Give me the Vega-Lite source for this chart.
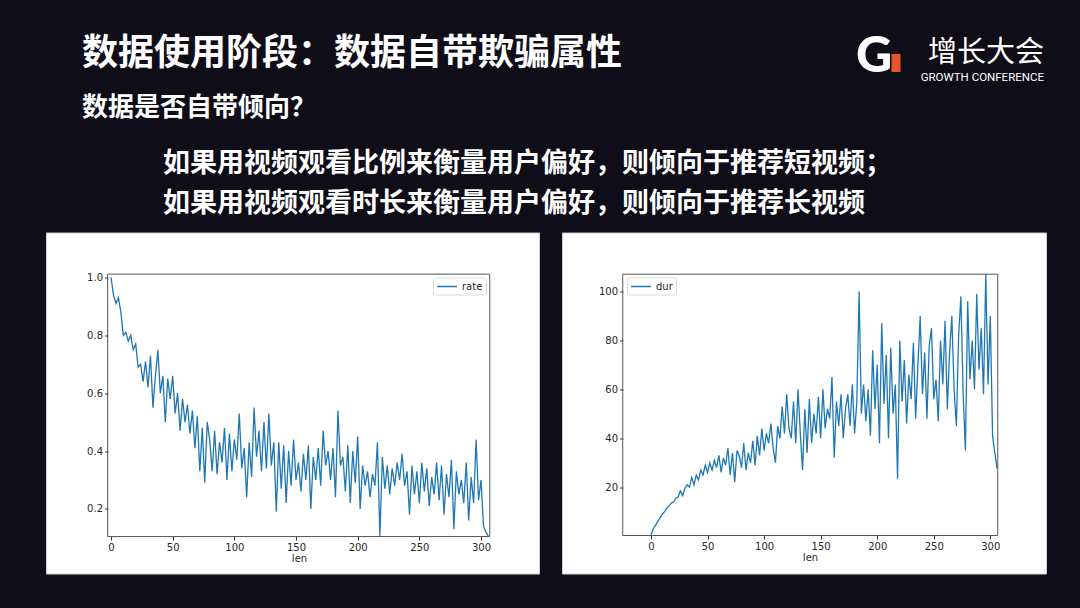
{
  "$schema": "https://vega.github.io/schema/vega-lite/v6.json",
  "background": "#0f0d18",
  "padding": {"left": 45, "top": 31.5, "right": 35, "bottom": 35},
  "bounds": "flush",
  "spacing": 23,
  "title": {
    "text": "数据使用阶段：数据自带欺骗属性",
    "subtitle": "数据是否自带倾向？",
    "anchor": "start", "frame": "group", "dx": 36, "offset": -90,
    "font": "Noto Sans CJK SC", "fontSize": 36, "fontWeight": "bold", "color": "white",
    "subtitleFont": "Noto Sans CJK SC", "subtitleFontSize": 26, "subtitleFontWeight": "bold",
    "subtitleColor": "white", "subtitlePadding": 22
  },
  "config": {
    "axis": {
      "domain": false, "grid": false, "tickSize": 3.5, "tickColor": "#333333", "tickWidth": 1,
      "labelFont": "DejaVu Sans", "labelFontSize": 10, "labelColor": "#262626", "labelPadding": 2,
      "titleFont": "DejaVu Sans", "titleFontSize": 10, "titleFontWeight": "normal", "titleColor": "#262626",
      "labelFlush": false, "labelOverlap": false, "zindex": 1
    },
    "legend": {
      "title": null, "orient": "none", "symbolType": "M-1,0H3", "symbolSize": 100, "symbolStrokeWidth": 1.5,
      "symbolFillColor": "transparent",
      "labelFont": "DejaVu Sans", "labelFontSize": 10, "labelColor": "#262626", "labelOffset": 14,
      "padding": 3, "strokeColor": "#dddddd", "fillColor": "white", "cornerRadius": 2
    }
  },
  "resolve": {"scale": {"color": "independent", "x": "independent", "y": "independent"}, "legend": {"color": "independent"}},
  "hconcat": [
    {
      "width": 493, "height": 341,
      "view": {"fill": "white", "stroke": "#cfcfd6"},
      "title": {
        "text": ["如果用视频观看比例来衡量用户偏好，则倾向于推荐短视频；", "如果用视频观看时长来衡量用户偏好，则倾向于推荐长视频"],
        "anchor": "start", "frame": "group", "dx": 117, "offset": 15,
        "font": "Noto Sans CJK SC", "fontSize": 27, "fontWeight": "bold", "color": "white", "lineHeight": 40
      },
      "layer": [
        {
          "data": {"values": [
            {"len":0,"rate":1.0},{"len":2,"rate":0.94},{"len":4,"rate":0.91},{"len":6,"rate":0.93},{"len":8,"rate":0.88},
            {"len":10,"rate":0.80},{"len":12,"rate":0.81},{"len":14,"rate":0.78},{"len":16,"rate":0.80},{"len":18,"rate":0.75},
            {"len":20,"rate":0.77},{"len":22,"rate":0.69},{"len":24,"rate":0.70},{"len":26,"rate":0.64},{"len":28,"rate":0.71},
            {"len":30,"rate":0.62},{"len":32,"rate":0.73},{"len":34,"rate":0.55},{"len":36,"rate":0.66},{"len":38,"rate":0.75},
            {"len":40,"rate":0.60},{"len":42,"rate":0.66},{"len":44,"rate":0.50},{"len":46,"rate":0.65},{"len":48,"rate":0.58},
            {"len":50,"rate":0.66},{"len":52,"rate":0.53},{"len":54,"rate":0.60},{"len":56,"rate":0.47},{"len":58,"rate":0.58},
            {"len":60,"rate":0.50},{"len":62,"rate":0.56},{"len":64,"rate":0.46},{"len":66,"rate":0.54},{"len":68,"rate":0.41},
            {"len":70,"rate":0.52},{"len":72,"rate":0.33},{"len":74,"rate":0.48},{"len":76,"rate":0.29},{"len":78,"rate":0.50},
            {"len":80,"rate":0.44},{"len":82,"rate":0.33},{"len":84,"rate":0.47},{"len":86,"rate":0.32},{"len":88,"rate":0.43},
            {"len":90,"rate":0.36},{"len":92,"rate":0.48},{"len":94,"rate":0.30},{"len":96,"rate":0.46},{"len":98,"rate":0.33},
            {"len":100,"rate":0.44},{"len":102,"rate":0.37},{"len":104,"rate":0.53},{"len":106,"rate":0.34},{"len":108,"rate":0.41},
            {"len":110,"rate":0.24},{"len":112,"rate":0.43},{"len":114,"rate":0.31},{"len":116,"rate":0.55},{"len":118,"rate":0.38},
            {"len":120,"rate":0.47},{"len":122,"rate":0.33},{"len":124,"rate":0.50},{"len":126,"rate":0.34},{"len":128,"rate":0.53},
            {"len":130,"rate":0.35},{"len":132,"rate":0.43},{"len":134,"rate":0.19},{"len":136,"rate":0.43},{"len":138,"rate":0.27},
            {"len":140,"rate":0.42},{"len":142,"rate":0.22},{"len":144,"rate":0.40},{"len":146,"rate":0.28},{"len":148,"rate":0.44},
            {"len":150,"rate":0.30},{"len":152,"rate":0.36},{"len":154,"rate":0.26},{"len":156,"rate":0.39},{"len":158,"rate":0.30},
            {"len":160,"rate":0.42},{"len":162,"rate":0.20},{"len":164,"rate":0.38},{"len":166,"rate":0.30},{"len":168,"rate":0.41},
            {"len":170,"rate":0.28},{"len":172,"rate":0.47},{"len":174,"rate":0.35},{"len":176,"rate":0.40},{"len":178,"rate":0.30},
            {"len":180,"rate":0.41},{"len":182,"rate":0.24},{"len":184,"rate":0.54},{"len":186,"rate":0.35},{"len":188,"rate":0.38},
            {"len":190,"rate":0.26},{"len":192,"rate":0.42},{"len":194,"rate":0.22},{"len":196,"rate":0.40},{"len":198,"rate":0.29},
            {"len":200,"rate":0.45},{"len":202,"rate":0.20},{"len":204,"rate":0.35},{"len":206,"rate":0.28},{"len":208,"rate":0.33},
            {"len":210,"rate":0.24},{"len":212,"rate":0.32},{"len":214,"rate":0.28},{"len":216,"rate":0.43},{"len":218,"rate":0.105},
            {"len":220,"rate":0.38},{"len":222,"rate":0.27},{"len":224,"rate":0.35},{"len":226,"rate":0.25},{"len":228,"rate":0.34},
            {"len":230,"rate":0.28},{"len":232,"rate":0.36},{"len":234,"rate":0.30},{"len":236,"rate":0.39},{"len":238,"rate":0.28},
            {"len":240,"rate":0.33},{"len":242,"rate":0.18},{"len":244,"rate":0.35},{"len":246,"rate":0.25},{"len":248,"rate":0.33},
            {"len":250,"rate":0.22},{"len":252,"rate":0.36},{"len":254,"rate":0.26},{"len":256,"rate":0.34},{"len":258,"rate":0.21},
            {"len":260,"rate":0.31},{"len":262,"rate":0.25},{"len":264,"rate":0.36},{"len":266,"rate":0.23},{"len":268,"rate":0.35},
            {"len":270,"rate":0.18},{"len":272,"rate":0.32},{"len":274,"rate":0.24},{"len":276,"rate":0.37},{"len":278,"rate":0.13},
            {"len":280,"rate":0.33},{"len":282,"rate":0.25},{"len":284,"rate":0.30},{"len":286,"rate":0.22},{"len":288,"rate":0.36},
            {"len":290,"rate":0.16},{"len":292,"rate":0.31},{"len":294,"rate":0.22},{"len":296,"rate":0.44},{"len":298,"rate":0.23},
            {"len":300,"rate":0.30},{"len":302,"rate":0.14},{"len":304,"rate":0.12},{"len":306,"rate":0.105}
          ]},
          "mark": {"type": "line", "strokeWidth": 1.3},
          "encoding": {
            "x": {"field": "len", "type": "quantitative",
                  "scale": {"domain": [-52.7, 347.0], "nice": false, "zero": false},
                  "axis": {"title": "len", "values": [0, 50, 100, 150, 200, 250, 300], "offset": -37, "titleX": 253, "titleY": 17, "titleBaseline": "top"}},
            "y": {"field": "rate", "type": "quantitative",
                  "scale": {"domain": [-0.0234, 1.1554], "nice": false, "zero": false},
                  "axis": {"title": null, "values": [0.2, 0.4, 0.6, 0.8, 1.0], "format": ".1f", "offset": -62}},
            "color": {"datum": "rate", "scale": {"range": ["#1f77b4"]},
                      "legend": {"legendX": 387, "legendY": 45}}
          }
        },
        {
          "data": {"values": [{}]},
          "mark": {"type": "rect", "filled": false, "stroke": "#555555", "strokeWidth": 1},
          "encoding": {
            "x": {"datum": -2.7, "type": "quantitative"},
            "x2": {"datum": 307.1},
            "y": {"datum": 0.1043, "type": "quantitative"},
            "y2": {"datum": 1.0114}
          }
        }
      ]
    },
    {
      "width": 484, "height": 341,
      "view": {"fill": "white", "stroke": "#cfcfd6"},
      "title": {"text": "增长大会", "subtitle": "GROWTH CONFERENCE", "anchor": "end", "frame": "group", "dx": -2, "offset": 149.5,
                "font": "Noto Sans CJK SC", "fontSize": 29, "fontWeight": "normal", "color": "white",
                "subtitleFont": "Roboto", "subtitleFontSize": 11.5, "subtitleColor": "white", "subtitlePadding": 4},
      "layer": [
        {
          "data": {"values": [
            {"len":0,"dur":0.5},{"len":2,"dur":3},{"len":4,"dur":4.5},{"len":6,"dur":6},{"len":8,"dur":7.5},
            {"len":10,"dur":9},{"len":12,"dur":10},{"len":14,"dur":11.5},{"len":16,"dur":12.5},{"len":18,"dur":13.5},
            {"len":20,"dur":14},{"len":22,"dur":15.5},{"len":24,"dur":16},{"len":26,"dur":18.5},{"len":28,"dur":16.5},
            {"len":30,"dur":19.5},{"len":32,"dur":21},{"len":34,"dur":20},{"len":36,"dur":24},{"len":38,"dur":21},
            {"len":40,"dur":25},{"len":42,"dur":23},{"len":44,"dur":27},{"len":46,"dur":25},{"len":48,"dur":29},
            {"len":50,"dur":26},{"len":52,"dur":30},{"len":54,"dur":27},{"len":56,"dur":31},{"len":58,"dur":28},
            {"len":60,"dur":33},{"len":62,"dur":26},{"len":64,"dur":32},{"len":66,"dur":29},{"len":68,"dur":36},
            {"len":70,"dur":25},{"len":72,"dur":34},{"len":74,"dur":22},{"len":76,"dur":35},{"len":78,"dur":33},
            {"len":80,"dur":28},{"len":82,"dur":38},{"len":84,"dur":27},{"len":86,"dur":34},{"len":88,"dur":30},
            {"len":90,"dur":39},{"len":92,"dur":29},{"len":94,"dur":41},{"len":96,"dur":33},{"len":98,"dur":44},
            {"len":100,"dur":35},{"len":102,"dur":42},{"len":104,"dur":38},{"len":106,"dur":46},{"len":108,"dur":36},
            {"len":110,"dur":30},{"len":112,"dur":45},{"len":114,"dur":40},{"len":116,"dur":53},{"len":118,"dur":42},
            {"len":120,"dur":58},{"len":122,"dur":44},{"len":124,"dur":40},{"len":126,"dur":55},{"len":128,"dur":38},
            {"len":130,"dur":60},{"len":132,"dur":42},{"len":134,"dur":27},{"len":136,"dur":52},{"len":138,"dur":34},
            {"len":140,"dur":56},{"len":142,"dur":38},{"len":144,"dur":50},{"len":146,"dur":42},{"len":148,"dur":57},
            {"len":150,"dur":40},{"len":152,"dur":60},{"len":154,"dur":44},{"len":156,"dur":52},{"len":158,"dur":48},
            {"len":160,"dur":65},{"len":162,"dur":32},{"len":164,"dur":55},{"len":166,"dur":45},{"len":168,"dur":58},
            {"len":170,"dur":40},{"len":172,"dur":52},{"len":174,"dur":58},{"len":176,"dur":45},{"len":178,"dur":62},
            {"len":180,"dur":42},{"len":182,"dur":55},{"len":184,"dur":100},{"len":186,"dur":50},{"len":188,"dur":62},
            {"len":190,"dur":47},{"len":192,"dur":60},{"len":194,"dur":41},{"len":196,"dur":76},{"len":198,"dur":52},
            {"len":200,"dur":70},{"len":202,"dur":38},{"len":204,"dur":87},{"len":206,"dur":54},{"len":208,"dur":74},
            {"len":210,"dur":40},{"len":212,"dur":77},{"len":214,"dur":50},{"len":216,"dur":62},{"len":218,"dur":23.5},
            {"len":220,"dur":80},{"len":222,"dur":55},{"len":224,"dur":72},{"len":226,"dur":46},{"len":228,"dur":66},
            {"len":230,"dur":56},{"len":232,"dur":79},{"len":234,"dur":48},{"len":236,"dur":70},{"len":238,"dur":90},
            {"len":240,"dur":58},{"len":242,"dur":75},{"len":244,"dur":48},{"len":246,"dur":78},{"len":248,"dur":85},
            {"len":250,"dur":56},{"len":252,"dur":64},{"len":254,"dur":47},{"len":256,"dur":80},{"len":258,"dur":62},
            {"len":260,"dur":88},{"len":262,"dur":52},{"len":264,"dur":75},{"len":266,"dur":90},{"len":268,"dur":60},
            {"len":270,"dur":45},{"len":272,"dur":82},{"len":274,"dur":98},{"len":276,"dur":58},{"len":278,"dur":35},
            {"len":280,"dur":96},{"len":282,"dur":64},{"len":284,"dur":80},{"len":286,"dur":60},{"len":288,"dur":99},
            {"len":290,"dur":68},{"len":292,"dur":85},{"len":294,"dur":58},{"len":296,"dur":107},{"len":298,"dur":62},
            {"len":300,"dur":90},{"len":302,"dur":41},{"len":304,"dur":34},{"len":306,"dur":27.6}
          ]},
          "mark": {"type": "line", "strokeWidth": 1.3},
          "encoding": {
            "x": {"field": "len", "type": "quantitative",
                  "scale": {"domain": [-78.7, 349.25], "nice": false, "zero": false},
                  "axis": {"title": "len", "values": [0, 50, 100, 150, 200, 250, 300], "offset": -38, "titleX": 248, "titleY": 17, "titleBaseline": "top"}},
            "y": {"field": "dur", "type": "quantitative",
                  "scale": {"domain": [-15.28, 124.12], "nice": false, "zero": false},
                  "axis": {"title": null, "values": [20, 40, 60, 80, 100], "offset": -61}},
            "color": {"datum": "dur", "scale": {"range": ["#1f77b4"]},
                      "legend": {"legendX": 65, "legendY": 45}},
            "strokeDash": {"datum": "G", "scale": {"range": [[1, 0]]},
                           "legend": {"orient": "none", "legendX": 825, "legendY": -200.5,
                                      "symbolType": "M-0.5,-0.333H0.5V1.667H-0.5Z", "symbolSize": 324,
                                      "symbolFillColor": "#e8552d", "symbolStrokeColor": "#e8552d", "symbolStrokeWidth": 0,
                                      "labelOffset": -65, "labelFont": "Lato", "labelFontSize": 50,
                                      "labelFontWeight": 900, "labelColor": "white", "labelLimit": 0,
                                      "padding": 0, "strokeColor": "transparent", "fillColor": "transparent"}}
          }
        },
        {
          "data": {"values": [{}]},
          "mark": {"type": "rect", "filled": false, "stroke": "#555555", "strokeWidth": 1},
          "encoding": {
            "x": {"datum": -25.0, "type": "quantitative"},
            "x2": {"datum": 306.6},
            "y": {"datum": 0.25, "type": "quantitative"},
            "y2": {"datum": 107.07}
          }
        }
      ]
    }
  ]
}
